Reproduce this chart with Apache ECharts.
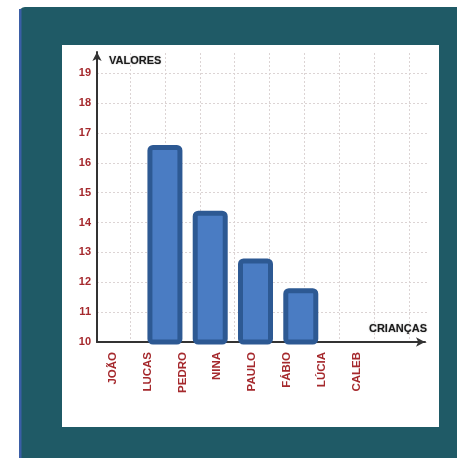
<!DOCTYPE html>
<html>
<head>
<meta charset="utf-8">
<script src="https://cdn.jsdelivr.net/npm/echarts@6/dist/echarts.min.js"></script>
<style>
  html, body { margin: 0; padding: 0; background: #ffffff; }
  #chart { width: 457px; height: 458px; }
</style>
</head>
<body>
<div id="chart"></div>
<script>
// Children names printed under the horizontal axis (plus one empty slot at the end)
const criancas = ['JOÃO', 'LUCAS', 'PEDRO', 'NINA', 'PAULO', 'FÁBIO', 'LÚCIA', 'CALEB'];
const faixasNomes = criancas.concat(['']);

// Bar columns (wider spacing than the name columns) and their values
const colunas = ['c1', 'c2', 'c3', 'c4', 'c5', 'c6', 'c7'];
const valores = [null, 16.6, 14.4, 12.8, 11.8, null, null];

// Vertical scale
const yMin = 10;
const yMax = 19;
const yPasso = 1;

const FONT = '"Liberation Sans", Arial, sans-serif';
const RED = '#a5292d';
const GRIDLINE = { color: '#dcd4d4', width: 1, type: [2, 2] };

const chart = echarts.init(document.getElementById('chart'), null, { renderer: 'canvas' });

const option = {
  animation: false,
  backgroundColor: '#ffffff',
  graphic: [
    // teal frame
    { type: 'rect', z: -10, shape: { x: 19, y: 7, width: 460, height: 460, r: [6, 0, 0, 0] },
      style: { fill: '#1f5a66' } },
    { type: 'rect', z: -9, shape: { x: 19, y: 9, width: 2.5, height: 460 },
      style: { fill: '#3b5ea6' } },
    // white sheet
    { type: 'rect', z: -8, shape: { x: 62, y: 45, width: 377, height: 382 },
      style: { fill: '#ffffff' } }
  ],
  grid: [
    // 0: frame axes with arrows
    { left: 97, right: 32, top: 52, bottom: 116 },
    // 1: value scale, horizontal guide lines
    { left: 97, right: 30, top: 73.3, bottom: 116 },
    // 2: name columns, vertical guide lines
    { left: 95.3, right: 48, top: 53, bottom: 116 },
    // 3: bars
    { left: 97, right: 43, top: 73.3, bottom: 116 }
  ],
  xAxis: [
    {
      gridIndex: 0, type: 'value', min: 0, max: 1,
      axisLine: { show: true, lineStyle: { color: '#333333', width: 2 },
                  symbol: ['none', 'arrow'], symbolSize: [7, 9] },
      axisTick: { show: false }, axisLabel: { show: false }, splitLine: { show: false },
      name: 'CRIANÇAS', nameLocation: 'end', nameGap: 0,
      nameTextStyle: { fontFamily: FONT, fontSize: 11, fontWeight: 'bold', color: '#1a1a1a',
                       align: 'right', verticalAlign: 'bottom', padding: [0, -2, 8, 0],
                       textShadowColor: 'rgba(0,0,0,0.35)', textShadowBlur: 1.5 }
    },
    {
      gridIndex: 1, type: 'value', min: 0, max: 1, show: false
    },
    {
      gridIndex: 2, type: 'category', data: faixasNomes, boundaryGap: true,
      axisLine: { show: false }, axisTick: { show: false },
      splitLine: { show: true, interval: function (i) { return i > 0; }, lineStyle: GRIDLINE },
      axisLabel: { rotate: 90, margin: 10, interval: 0, color: RED, fontFamily: FONT,
                   fontSize: 11.5, fontWeight: 'bold' }
    },
    {
      gridIndex: 3, type: 'category', data: colunas, boundaryGap: true, show: false
    }
  ],
  yAxis: [
    {
      gridIndex: 0, type: 'value', min: 0, max: 1,
      axisLine: { show: true, lineStyle: { color: '#333333', width: 2 },
                  symbol: ['none', 'arrow'], symbolSize: [7, 9] },
      axisTick: { show: false }, axisLabel: { show: false }, splitLine: { show: false },
      name: 'VALORES', nameLocation: 'end', nameGap: 0,
      nameTextStyle: { fontFamily: FONT, fontSize: 11, fontWeight: 'bold', color: '#1a1a1a',
                       align: 'left', verticalAlign: 'top', padding: [3, 0, 0, 12],
                       textShadowColor: 'rgba(0,0,0,0.35)', textShadowBlur: 1.5 }
    },
    {
      gridIndex: 1, type: 'value', min: yMin, max: yMax, interval: yPasso,
      axisLine: { show: false }, axisTick: { show: false },
      splitLine: { show: true, lineStyle: GRIDLINE },
      axisLabel: { margin: 6, color: RED, fontFamily: FONT, fontSize: 11, fontWeight: 'bold' }
    },
    {
      gridIndex: 2, type: 'value', min: 0, max: 1, show: false
    },
    {
      gridIndex: 3, type: 'value', min: yMin, max: yMax, show: false
    }
  ],
  series: [
    {
      type: 'bar',
      xAxisIndex: 3, yAxisIndex: 3,
      data: valores,
      barWidth: 35,
      z: 1,
      itemStyle: {
        color: '#4a7cc3',
        borderColor: '#2d5993',
        borderWidth: 5,
        borderRadius: 3
      }
    }
  ]
};

chart.setOption(option);
</script>
</body>
</html>
